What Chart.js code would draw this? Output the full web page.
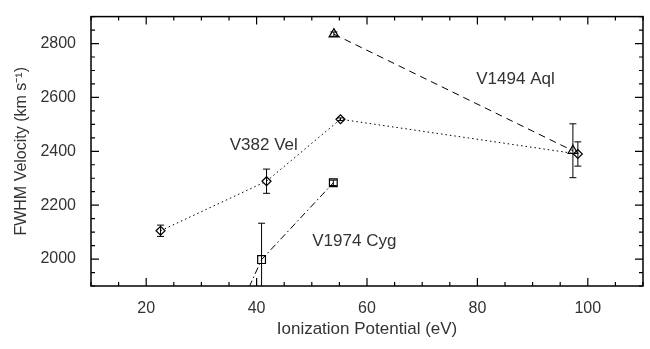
<!DOCTYPE html>
<html>
<head>
<meta charset="utf-8">
<script src="https://cdn.jsdelivr.net/npm/chart.js@4"></script>
<style>
  html, body { margin: 0; padding: 0; background: #fff; }
  #wrap { width: 650px; height: 349px; }
</style>
</head>
<body>
<div id="wrap"><canvas id="myChart" width="650" height="349"></canvas></div>
<script>
// values
const aqlX = [54.0, 97.3];
const aqlY = [2835, 2402];
const aqlErr = [8, 100];

const velX = [22.6, 41.8, 55.2, 98.2];
const velY = [2105, 2289, 2519, 2390];
const velErr = [21, 45, 5, 45];

const cygX = [34.3, 40.9, 53.9];
const cygY = [1700, 1998, 2283];
const cygErr = [0, 135, 10];

const xTicks = [20, 40, 60, 80, 100];
const yTicks = [2000, 2200, 2400, 2600, 2800];

const names = ['V1494 Aql', 'V382 Vel', 'V1974 Cyg'];
const nameX = [86.9, 41.3, 57.7];
const nameY = [2669, 2423, 2067];

const FONT = 'Liberation Sans, Arial, Helvetica, sans-serif';
const TXT = '#333';

const pts = (xs, ys) => xs.map((x, i) => ({x: x, y: ys[i]}));

// error bars, drawn through the scales
const errorBars = {
  id: 'errorBars',
  afterDatasetsDraw(chart) {
    const {ctx, chartArea, scales: {x, y}} = chart;
    const sets = [[aqlX, aqlY, aqlErr], [velX, velY, velErr], [cygX, cygY, cygErr]];
    ctx.save();
    ctx.beginPath();
    ctx.rect(chartArea.left, chartArea.top, chartArea.right - chartArea.left, chartArea.bottom - chartArea.top);
    ctx.clip();
    ctx.strokeStyle = '#000';
    ctx.lineWidth = 1;
    sets.forEach(([xs, ys, es]) => {
      xs.forEach((xv, i) => {
        if (!es[i]) return;
        const px = x.getPixelForValue(xv);
        const top = y.getPixelForValue(ys[i] + es[i]);
        const bot = y.getPixelForValue(ys[i] - es[i]);
        ctx.beginPath();
        ctx.moveTo(px, top); ctx.lineTo(px, bot);
        ctx.moveTo(px - 3.5, top); ctx.lineTo(px + 3.5, top);
        ctx.moveTo(px - 3.5, bot); ctx.lineTo(px + 3.5, bot);
        ctx.stroke();
      });
    });
    ctx.restore();
  }
};

// box frame with inward ticks on all four sides, and the star names
const frame = {
  id: 'frame',
  afterDraw(chart) {
    const {ctx, chartArea: a, scales: {x, y}} = chart;
    ctx.save();
    ctx.strokeStyle = '#000';
    ctx.lineWidth = 1.5;
    ctx.strokeRect(a.left, a.top, a.right - a.left, a.bottom - a.top);
    ctx.lineWidth = 1.2;
    ctx.beginPath();
    for (let v = 10; v <= 110; v += 5) {
      const px = x.getPixelForValue(v);
      const len = v % 20 === 0 ? 8 : 4;
      ctx.moveTo(px, a.bottom); ctx.lineTo(px, a.bottom - len);
      ctx.moveTo(px, a.top); ctx.lineTo(px, a.top + len);
    }
    for (let v = 1900; v <= 2900; v += 50) {
      const py = y.getPixelForValue(v);
      const len = v % 200 === 0 ? 8 : 4;
      ctx.moveTo(a.left, py); ctx.lineTo(a.left + len, py);
      ctx.moveTo(a.right, py); ctx.lineTo(a.right - len, py);
    }
    ctx.stroke();

    ctx.fillStyle = TXT;
    ctx.font = '17px ' + FONT;
    ctx.textAlign = 'center';
    ctx.textBaseline = 'middle';
    names.forEach((n, i) => {
      ctx.fillText(n, x.getPixelForValue(nameX[i]), y.getPixelForValue(nameY[i]));
    });
    ctx.restore();
  }
};

const base = {
  showLine: true,
  borderColor: '#000',
  borderWidth: 1,
  pointBorderColor: '#000',
  pointBackgroundColor: 'rgba(0,0,0,0)',
  pointBorderWidth: 1.2,
  fill: false,
  tension: 0
};

const data = {
  datasets: [
    Object.assign({}, base, {
      label: names[0], data: pts(aqlX, aqlY),
      borderDash: [7, 5], pointStyle: 'triangle', pointRadius: 5.5
    }),
    Object.assign({}, base, {
      label: names[1], data: pts(velX, velY),
      borderDash: [1.5, 3], pointStyle: 'rectRot', pointRadius: 4.5
    }),
    Object.assign({}, base, {
      label: names[2], data: pts(cygX, cygY),
      borderDash: [7, 3, 1.5, 3], pointStyle: 'rect', pointRadius: 5.5
    })
  ]
};

const config = {
  type: 'scatter',
  data: data,
  options: {
    responsive: false,
    animation: false,
    layout: { padding: { top: 5, right: 7, left: 12, bottom: 0 } },
    plugins: { legend: { display: false }, tooltip: { enabled: false } },
    scales: {
      x: {
        type: 'linear', min: 10, max: 110,
        afterBuildTicks: s => { s.ticks = xTicks.map(v => ({value: v})); },
        afterFit: s => { s.height = 63; },
        grid: { display: false }, border: { display: false },
        ticks: { color: TXT, font: { size: 16, family: FONT }, padding: 5,
                 callback: v => String(v) },
        title: { display: true, text: 'Ionization Potential (eV)', color: TXT,
                 font: { size: 17, family: FONT }, padding: { top: 0, bottom: 9 } }
      },
      y: {
        type: 'linear', min: 1900, max: 2900,
        afterBuildTicks: s => { s.ticks = yTicks.map(v => ({value: v})); },
        afterFit: s => { s.width = 79; },
        grid: { display: false }, border: { display: false },
        ticks: { color: TXT, font: { size: 16, family: FONT }, padding: 7,
                 callback: v => String(v) },
        title: { display: true, text: 'FWHM Velocity (km s\u207B\u00B9)', color: TXT,
                 font: { size: 16, family: FONT }, padding: { top: 0, bottom: 4 } }
      }
    }
  },
  plugins: [errorBars, frame]
};

const myChart = new Chart(document.getElementById('myChart'), config);
</script>
</body>
</html>
